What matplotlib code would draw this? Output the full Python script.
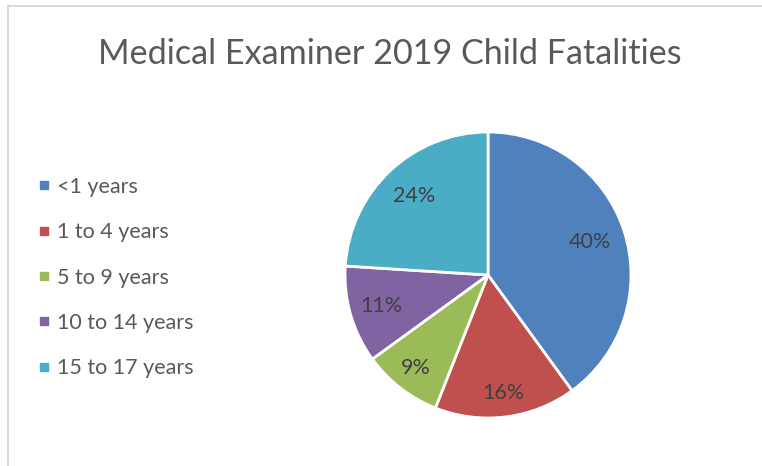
import matplotlib
matplotlib.use("Agg")
import matplotlib.pyplot as plt
from matplotlib.lines import Line2D
import numpy as np

# Dados
categories = ["<1 years", "1 to 4 years", "5 to 9 years", "10 to 14 years", "15 to 17 years"]
percentages = [40, 16, 9, 11, 24]
colors = ["#4F81BD", "#C0504D", "#9BBB59", "#8064A2", "#4BACC6"]

# distância radial de cada rótulo (como o Excel posiciona)
label_dist = [0.75, 0.835, 0.82, 0.78, 0.755]

plt.rcParams["font.family"] = ["Lato", "DejaVu Sans"]

fig = plt.figure(figsize=(7.62, 4.66), dpi=100)

# Borda do gráfico (estilo Excel)
fig.add_artist(Line2D([8 / 762, 8 / 762], [0, 1 - 6 / 466], transform=fig.transFigure,
                      color="#D9D9D9", lw=1.5))
fig.add_artist(Line2D([8 / 762, 1], [1 - 6 / 466, 1 - 6 / 466], transform=fig.transFigure,
                      color="#D9D9D9", lw=1.5))

fig.text(390 / 762, 1 - 54 / 466, "Medical Examiner 2019 Child Fatalities",
         ha="center", va="center", fontsize=24.6, color="#595959")

# eixo da pizza: centro (488, 275) px, raio 143 px
ax = fig.add_axes([(488 - 143) / 762, (466 - 275 - 143) / 466, 286 / 762, 286 / 466])
wedges, texts = ax.pie(percentages, colors=colors, startangle=90, counterclock=False,
                       wedgeprops=dict(edgecolor="white", linewidth=2))
ax.set_xlim(-1, 1)
ax.set_ylim(-1, 1)
ax.set_aspect("equal")

for w, p, d in zip(wedges, percentages, label_dist):
    ang = np.deg2rad((w.theta1 + w.theta2) / 2)
    ax.text(d * np.cos(ang), d * np.sin(ang), f"{p}%", ha="center", va="center",
            fontsize=15.5, color="#404040")

handles = [Line2D([], [], marker="s", linestyle="none", markersize=6, color=c) for c in colors]
fig.legend(handles, categories, loc="center left", bbox_to_anchor=(18 / 762, 1 - 277.5 / 466),
           frameon=False, fontsize=15.5, labelcolor="#595959", labelspacing=1.18,
           handlelength=0.6, handletextpad=0.3)

plt.savefig("out.png", dpi=100)
